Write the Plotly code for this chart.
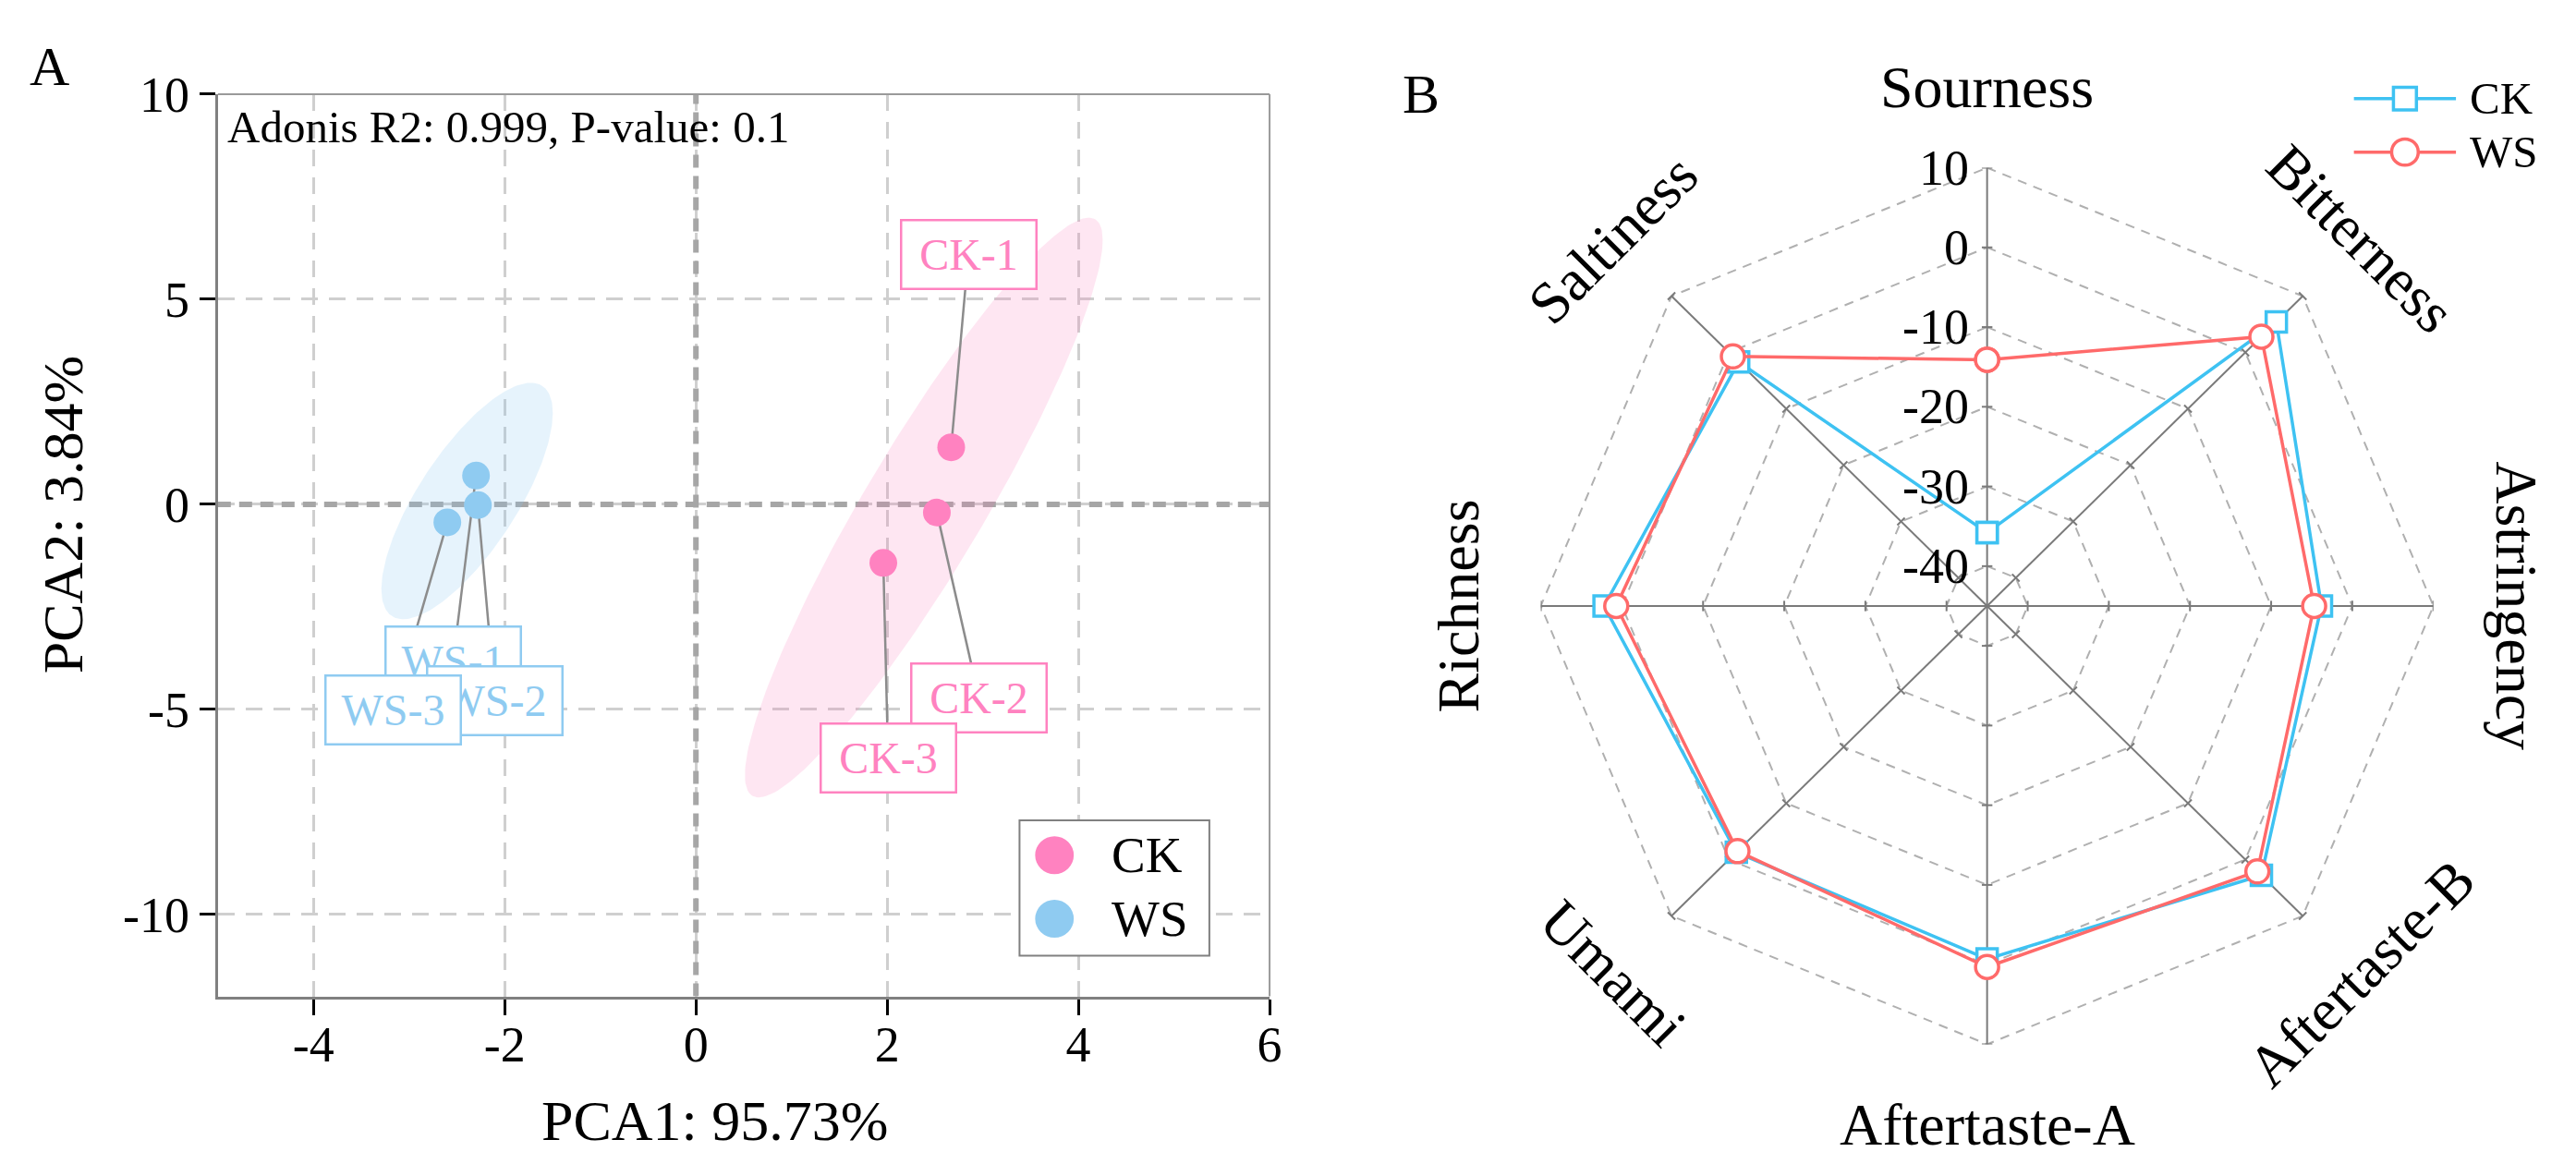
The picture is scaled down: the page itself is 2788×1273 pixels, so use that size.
import numpy as np
import plotly.graph_objects as go

W, H = 2788, 1273
FONT = "Liberation Serif"

# ---------------- Panel A data (PCA) ----------------
ck_samples = ["CK-1", "CK-2", "CK-3"]
ck_pc1 = [2.67, 2.52, 1.96]
ck_pc2 = [1.39, -0.20, -1.43]
ws_samples = ["WS-1", "WS-2", "WS-3"]
ws_pc1 = [-2.30, -2.28, -2.60]
ws_pc2 = [0.70, -0.02, -0.44]

# repelled label anchor positions (data coords)
ck_label_x = [2.85, 2.96, 2.01]
ck_label_y = [6.10, -4.72, -6.19]
ws_label_x = [-2.54, -2.10, -3.17]
ws_label_y = [-3.82, -4.78, -5.01]

pc1_ticks = [-4, -2, 0, 2, 4, 6]
pc1_ticktext = ["-4", "-2", "0", "2", "4", "6"]
pc2_ticks = [-10, -5, 0, 5, 10]
pc2_ticktext = ["-10", "-5", "0", "5", "10"]
groups = ["CK", "WS"]

# ---------------- Panel B data (radar) ----------------
attributes = ["Sourness", "Bitterness", "Astringency", "Aftertaste-B",
              "Aftertaste-A", "Umami", "Richness", "Saltiness"]
ck_taste = [-35.8, 5.4, -3.8, 2.8, -0.7, -1.3, 2.2, -1.7]
ws_taste = [-14.1, 2.8, -4.7, 2.1, 0.3, -1.5, 0.7, -0.7]
radial_ticks = [-40, -30, -20, -10, 0, 10]
radial_ticktext = ["-40", "-30", "-20", "-10", "0", "10"]
r_min, r_max = -45, 10

# ---------------- styles ----------------
CK_PT = "#FF82C0"
WS_PT = "#8FCBF1"
CK_FILL = "rgba(250,120,185,0.19)"
WS_FILL = "rgba(140,200,240,0.22)"
CK_LINE = "#3EC2F2"
WS_LINE = "#FF6A6A"
SPOKE = "#7a7a7a"


def px(x):
    return x / W


def py(y):
    return 1 - y / H


def ellipse(xs, ys, c=5.0, n=200):
    pts = np.vstack([xs, ys])
    m = pts.mean(axis=1)
    cov = np.cov(pts)
    L = np.linalg.cholesky(cov)
    t = np.linspace(0, 2 * np.pi, n)
    e = m[:, None] + c * L @ np.vstack([np.cos(t), np.sin(t)])
    return e[0], e[1]


N = len(attributes)
ANG = np.deg2rad(np.arange(N) * 360.0 / N)   # clockwise from north


def radar_xy(vals):
    """radar value per category -> radar-plane coordinates (center = r_min)"""
    rr = np.asarray(vals, dtype=float) - r_min
    return list(rr * np.sin(ANG)), list(rr * np.cos(ANG))


fig = go.Figure()

# ================= Panel A =================
for xs, ys, fc in [(ck_pc1, ck_pc2, CK_FILL), (ws_pc1, ws_pc2, WS_FILL)]:
    ex, ey = ellipse(xs, ys)
    fig.add_trace(go.Scatter(x=ex, y=ey, mode="lines", fill="toself", fillcolor=fc,
                             line=dict(width=0), showlegend=False, hoverinfo="skip"))

for xs, ys, lx, ly in [(ck_pc1, ck_pc2, ck_label_x, ck_label_y),
                       (ws_pc1, ws_pc2, ws_label_x, ws_label_y)]:
    sx, sy = [], []
    for a, b, c, d in zip(xs, ys, lx, ly):
        sx += [a, c, None]
        sy += [b, d, None]
    fig.add_trace(go.Scatter(x=sx, y=sy, mode="lines", line=dict(color="#8c8c8c", width=2.5),
                             showlegend=False, hoverinfo="skip"))

for name, xs, ys, col in [("CK", ck_pc1, ck_pc2, CK_PT), ("WS", ws_pc1, ws_pc2, WS_PT)]:
    fig.add_trace(go.Scatter(x=xs, y=ys, mode="markers", name=name,
                             marker=dict(color=col, size=30, line=dict(width=0)),
                             showlegend=False))

# ================= Panel B (radar on a square overlay axis) =================
# octagonal dashed grid at each radial tick
gx, gy = [], []
for v in radial_ticks:
    xx, yy = radar_xy([v] * N)
    gx += xx + [xx[0], None]
    gy += yy + [yy[0], None]
fig.add_trace(go.Scatter(x=gx, y=gy, mode="lines", xaxis="x2", yaxis="y2",
                         line=dict(color="#b0b0b0", width=2, dash="10px,8px"),
                         showlegend=False, hoverinfo="skip"))

# spokes
ox, oy = radar_xy([r_max] * N)
spx, spy = [], []
for a, b in zip(ox, oy):
    spx += [0, a, None]
    spy += [0, b, None]
fig.add_trace(go.Scatter(x=spx, y=spy, mode="lines", xaxis="x2", yaxis="y2",
                         line=dict(color=SPOKE, width=2), showlegend=False, hoverinfo="skip"))

# tick marks perpendicular to each spoke
tx, ty = [], []
half = 0.65
for a in ANG:
    for v in radial_ticks:
        rr = v - r_min
        bx, by = rr * np.sin(a), rr * np.cos(a)
        ux, uy = np.cos(a), -np.sin(a)
        tx += [bx - half * ux, bx + half * ux, None]
        ty += [by - half * uy, by + half * uy, None]
fig.add_trace(go.Scatter(x=tx, y=ty, mode="lines", xaxis="x2", yaxis="y2",
                         line=dict(color=SPOKE, width=2), showlegend=False, hoverinfo="skip"))

# series
for name, vals, col, sym, sz in [("CK", ck_taste, CK_LINE, "square", 22),
                                 ("WS", ws_taste, WS_LINE, "circle", 25)]:
    xx, yy = radar_xy(vals)
    fig.add_trace(go.Scatter(x=xx + [xx[0]], y=yy + [yy[0]], mode="lines+markers", name=name,
                             xaxis="x2", yaxis="y2", cliponaxis=False,
                             text=attributes + [attributes[0]],
                             line=dict(color=col, width=3.5),
                             marker=dict(symbol=sym, size=sz, color="white",
                                         line=dict(color=col, width=3.5)),
                             showlegend=False))

# ---------------- layout ----------------
xa0, xa1 = 237, 1381
ya0, ya1 = 74.7, 1074
axis_common = dict(showgrid=True, gridcolor="#cfcfcf", gridwidth=2.5, griddash="18px,12px",
                   zeroline=False, showline=True, linecolor="#808080", linewidth=3,
                   ticks="outside", ticklen=17, tickwidth=3, tickcolor="black",
                   tickfont=dict(family=FONT, size=54, color="black"))

cx, cy, R = 2161.5, 641.6, 485.5

shapes = []
shapes.append(dict(type="line", xref="x", yref="y", x0=0, x1=0, y0=-12, y1=10,
                   line=dict(color="#a6a6a6", width=6, dash="14px,9px"), layer="between"))
shapes.append(dict(type="line", xref="x", yref="y", x0=-5, x1=6, y0=0, y1=0,
                   line=dict(color="#a6a6a6", width=6, dash="14px,9px"), layer="between"))
shapes.append(dict(type="line", xref="paper", yref="paper", x0=px(xa0), x1=px(xa1),
                   y0=py(ya0), y1=py(ya0), line=dict(color="#9a9a9a", width=2)))
shapes.append(dict(type="line", xref="paper", yref="paper", x0=px(xa1), x1=px(xa1),
                   y0=py(ya0), y1=py(ya1), line=dict(color="#9a9a9a", width=2)))
# legend A
shapes.append(dict(type="rect", xref="paper", yref="paper", x0=px(1109), x1=px(1315.5),
                   y0=py(1029), y1=py(879), line=dict(color="#808080", width=2),
                   fillcolor="white"))
legA = [("CK", CK_PT, 917.6), ("WS", WS_PT, 988)]
for name, col, yy in legA:
    shapes.append(dict(type="circle", xref="paper", yref="paper",
                       x0=px(1147 - 21), x1=px(1147 + 21), y0=py(yy + 21), y1=py(yy - 21),
                       fillcolor=col, line=dict(width=0)))
# legend B
legB = [("CK", CK_LINE, 79.6, "rect", 12.5), ("WS", WS_LINE, 138.8, "circle", 14.5)]
for name, col, yy, shp, hs in legB:
    shapes.append(dict(type="line", xref="paper", yref="paper", x0=px(2560.5), x1=px(2671.5),
                       y0=py(yy), y1=py(yy), line=dict(color=col, width=3.5)))
    shapes.append(dict(type=shp, xref="paper", yref="paper",
                       x0=px(2616 - hs), x1=px(2616 + hs), y0=py(yy + hs), y1=py(yy - hs),
                       fillcolor="white", line=dict(color=col, width=3.5)))

annotations = []
for labels, lx, ly, col in [(ck_samples, ck_label_x, ck_label_y, CK_PT),
                            (ws_samples, ws_label_x, ws_label_y, WS_PT)]:
    for t, a, b in zip(labels, lx, ly):
        annotations.append(dict(x=a, y=b, xref="x", yref="y", text=t, showarrow=False,
                                font=dict(family=FONT, size=48, color=col),
                                bgcolor="white", bordercolor=col, borderwidth=2.5,
                                borderpad=4, width=136, height=64))
annotations += [
    dict(x=px(245), y=py(111), xref="paper", yref="paper", xanchor="left", yanchor="middle",
         text="Adonis R2: 0.999, P-value: 0.1", showarrow=False,
         font=dict(family=FONT, size=49, color="black")),
    dict(x=px(777), y=py(1212), xref="paper", yref="paper", xanchor="center", yanchor="middle",
         text="PCA1: 95.73%", showarrow=False, font=dict(family=FONT, size=62, color="black")),
    dict(x=px(68), y=py(541), xref="paper", yref="paper", xanchor="center", yanchor="middle",
         text="PCA2: 3.84%", textangle=-90, showarrow=False,
         font=dict(family=FONT, size=62, color="black")),
    dict(x=px(53.5), y=py(44.5), xref="paper", yref="paper", xanchor="center", yanchor="middle",
         text="A", showarrow=False, font=dict(family=FONT, size=60, color="black")),
    dict(x=px(1546), y=py(74.5), xref="paper", yref="paper", xanchor="center", yanchor="middle",
         text="B", showarrow=False, font=dict(family=FONT, size=60, color="black")),
]
for name, col, yy in legA:
    annotations.append(dict(x=px(1207), y=py(yy), xref="paper", yref="paper", xanchor="left",
                            yanchor="middle", text=name, showarrow=False,
                            font=dict(family=FONT, size=55, color="black")))
for name, col, yy, shp, hs in legB:
    annotations.append(dict(x=px(2684), y=py(yy), xref="paper", yref="paper", xanchor="left",
                            yanchor="middle", text=name, showarrow=False,
                            font=dict(family=FONT, size=49, color="black")))
# radial tick labels along the top spoke
for v, t in zip(radial_ticks, radial_ticktext):
    annotations.append(dict(x=0, y=v - r_min, xref="x2", yref="y2", xanchor="right",
                            yanchor="middle", xshift=-18, text=t, showarrow=False,
                            font=dict(family=FONT, size=54, color="black")))
# category labels
text_angles = [0, 45, 90, -45, 0, 45, -90, -45]
LR = 575
for i, (a, ta) in enumerate(zip(attributes, text_angles)):
    lx = cx + LR * np.sin(ANG[i])
    ly = cy - LR * np.cos(ANG[i])
    annotations.append(dict(x=px(lx), y=py(ly), xref="paper", yref="paper",
                            xanchor="center", yanchor="middle", text=a, textangle=ta,
                            showarrow=False, font=dict(family=FONT, size=64, color="black")))

span = r_max - r_min
fig.update_layout(
    width=W, height=H, autosize=False,
    margin=dict(l=0, r=0, t=0, b=0),
    paper_bgcolor="white", plot_bgcolor="rgba(0,0,0,0)",
    showlegend=False,
    xaxis=dict(domain=[px(xa0), px(xa1)], range=[-5, 6], tickvals=pc1_ticks,
               ticktext=pc1_ticktext, ticklabelstandoff=-14, **axis_common),
    yaxis=dict(domain=[py(ya1), py(ya0)], range=[-12, 10], tickvals=pc2_ticks,
               ticktext=pc2_ticktext, ticklabelstandoff=0, **axis_common),
    xaxis2=dict(domain=[px(cx - R), px(cx + R)], range=[-span, span], visible=False,
                fixedrange=True),
    yaxis2=dict(domain=[py(cy + R), py(cy - R)], range=[-span, span], visible=False,
                fixedrange=True),
    shapes=shapes,
    annotations=annotations,
)

fig.write_html("out.html", config={"displayModeBar": False},
               post_script="document.body.style.margin='0px';document.body.style.overflow='hidden';")
